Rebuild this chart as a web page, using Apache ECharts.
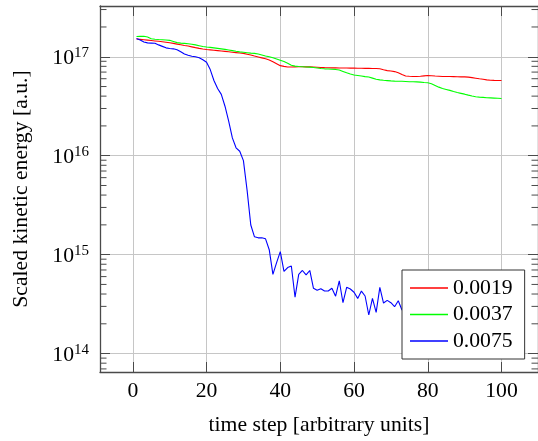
<!DOCTYPE html>
<html><head><meta charset="utf-8">
<script src="https://cdn.jsdelivr.net/npm/echarts@6/dist/echarts.min.js"></script>
<style>html,body{margin:0;padding:0;background:#fff}#c{width:538px;height:441px}</style>
</head><body><div id="c"></div>
<script>
// time steps (x values)
const steps = [1,2,3,4,5,6,7,8,9,10,11,12,13,14,15,16,17,18,19,20,
21,22,23,24,25,26,27,28,29,30,31,32,33,34,35,36,37,38,39,40,
41,42,43,44,45,46,47,48,49,50,51,52,53,54,55,56,57,58,59,60,
61,62,63,64,65,66,67,68,69,70,71,72,73,74,75,76,77,78,79,80,
81,82,83,84,85,86,87,88,89,90,91,92,93,94,95,96,97,98,99,100];

const seriesNames = ['0.0019', '0.0037', '0.0075'];

// log10 of the scaled kinetic energy
const log10Energy0019 = [
17.180,17.176,17.172,17.168,17.164,17.160,17.156,17.151,17.146,17.141,
17.135,17.128,17.121,17.114,17.108,17.100,17.092,17.085,17.079,17.074,
17.070,17.066,17.062,17.058,17.054,17.050,17.046,17.042,17.038,17.034,
17.026,17.017,17.007,16.998,16.989,16.980,16.968,16.950,16.930,16.910,
16.903,16.897,16.897,16.898,16.899,16.899,16.898,16.898,16.896,16.894,
16.892,16.890,16.889,16.888,16.888,16.887,16.886,16.886,16.885,16.885,
16.884,16.884,16.883,16.883,16.882,16.882,16.878,16.868,16.860,16.856,
16.850,16.838,16.820,16.806,16.803,16.801,16.800,16.803,16.807,16.810,
16.808,16.805,16.803,16.801,16.800,16.800,16.799,16.798,16.797,16.797,
16.794,16.789,16.783,16.777,16.772,16.766,16.763,16.761,16.760,16.760];

const log10Energy0037 = [
17.205,17.206,17.207,17.200,17.182,17.177,17.174,17.172,17.170,17.166,
17.155,17.143,17.138,17.135,17.131,17.127,17.120,17.112,17.104,17.099,
17.095,17.090,17.085,17.080,17.075,17.069,17.062,17.055,17.049,17.045,
17.041,17.037,17.034,17.028,17.018,17.008,17.000,16.990,16.978,16.965,
16.952,16.935,16.915,16.905,16.901,16.899,16.897,16.895,16.892,16.887,
16.881,16.878,16.876,16.874,16.872,16.866,16.852,16.838,16.825,16.815,
16.810,16.805,16.799,16.795,16.784,16.773,16.766,16.762,16.759,16.756,
16.754,16.753,16.752,16.750,16.748,16.747,16.746,16.744,16.740,16.737,
16.727,16.710,16.693,16.680,16.670,16.660,16.648,16.638,16.630,16.622,
16.612,16.603,16.596,16.592,16.589,16.586,16.584,16.582,16.580,16.578];

const log10Energy0075 = [
17.185,17.170,17.150,17.140,17.138,17.136,17.120,17.105,17.090,17.083,
17.080,17.070,17.050,17.028,17.015,17.005,17.000,16.990,16.970,16.945,
16.870,16.760,16.680,16.620,16.500,16.350,16.180,16.080,16.045,15.950,
15.650,15.300,15.180,15.170,15.170,15.160,15.050,14.800,14.920,15.030,
14.830,14.870,14.885,14.570,14.800,14.840,14.795,14.840,14.660,14.640,
14.655,14.632,14.632,14.660,14.580,14.736,14.514,14.670,14.653,14.620,
14.558,14.632,14.582,14.390,14.558,14.417,14.670,14.511,14.538,14.514,
14.474,14.534,14.440,14.470,14.400,14.450,14.360,14.420,14.330,14.390,
14.300,14.360,14.280,14.340,14.250,14.310,14.220,14.290,14.200,14.260,
14.170,14.240,14.150,14.220,14.122,14.200,14.160,14.220,14.140,14.190];

const xTickValues = [0, 20, 40, 60, 80, 100];
const yTickExponents = [14, 15, 16, 17];
const xRange = [-8.9, 109.9];
const yRange = [6.516e13, 3.258e17];
const minorTickValues = [7e13,8e13,9e13,
  2e14,3e14,4e14,5e14,6e14,7e14,8e14,9e14,
  2e15,3e15,4e15,5e15,6e15,7e15,8e15,9e15,
  2e16,3e16,4e16,5e16,6e16,7e16,8e16,9e16,
  2e17,3e17];

const FONT = '"Liberation Serif", "Times New Roman", serif';
const frameColor = '#4a4a4a';
const gridColor = '#c6c6c6';
const lineColors = ['#ff0000', '#00ff00', '#0000ff'];
const allLogs = [log10Energy0019, log10Energy0037, log10Energy0075];

function toPairs(logs) { return steps.map((s, i) => [s, Math.pow(10, logs[i])]); }

function yLabel(v) {
  const e = Math.log10(v);
  const r = Math.round(e);
  if (Math.abs(e - r) < 1e-6 && yTickExponents.includes(r)) return '{b|10}{s|' + r + '}';
  return '';
}
function xLabel(v) { return xTickValues.includes(v) ? String(v) : ''; }

const lineSeries = seriesNames.map((n, i) => ({
  name: n, type: 'line', data: toPairs(allLogs[i]),
  symbol: 'none', showSymbol: false, clip: true, z: 3,
  lineStyle: { color: lineColors[i], width: 1.1 },
  itemStyle: { color: lineColors[i] }
}));

const minorTicks = {
  type: 'custom', silent: true, z: 4,
  data: minorTickValues.map(v => [xRange[0], v]),
  encode: { x: 0, y: 1 },
  renderItem: function (params, api) {
    const v = api.value(1);
    const pL = api.coord([xRange[0], v]);
    const pR = api.coord([xRange[1], v]);
    const st = { stroke: frameColor, lineWidth: 1 };
    return { type: 'group', children: [
      { type: 'line', shape: { x1: pL[0], y1: pL[1], x2: pL[0] + 6.5, y2: pL[1] }, style: st },
      { type: 'line', shape: { x1: pR[0] - 6.5, y1: pR[1], x2: pR[0], y2: pR[1] }, style: st }
    ]};
  }
};

const axisLineStyle = { color: frameColor, width: 1.3 };
const tickStyle = { color: frameColor, width: 1 };

const option = {
  animation: false,
  backgroundColor: '#fff',
  grid: { left: 100, top: 6, width: 441, height: 366 },
  xAxis: [{
    type: 'value', min: xRange[0], max: xRange[1], splitNumber: 6,
    axisLine: { show: true, onZero: false, lineStyle: axisLineStyle },
    axisTick: { show: true, inside: true, length: 10, lineStyle: tickStyle },
    axisLabel: { show: true, margin: 8, fontFamily: FONT, fontSize: 21.7, color: '#000',
      showMinLabel: false, showMaxLabel: false, formatter: xLabel },
    splitLine: { show: true, lineStyle: { color: gridColor, width: 1 } },
    name: 'time step [arbitrary units]', nameLocation: 'middle', nameGap: 42,
    nameTextStyle: { fontFamily: FONT, fontSize: 21.7, color: '#000' }
  }, {
    type: 'value', position: 'top', min: xRange[0], max: xRange[1], splitNumber: 6,
    axisLine: { show: true, onZero: false, lineStyle: axisLineStyle },
    axisTick: { show: true, inside: true, length: 10, lineStyle: tickStyle },
    axisLabel: { show: false }, splitLine: { show: false }
  }],
  yAxis: [{
    type: 'log', logBase: 10, min: yRange[0], max: yRange[1], splitNumber: 4,
    axisLine: { show: true, onZero: false, lineStyle: axisLineStyle },
    axisTick: { show: true, inside: true, length: 10, lineStyle: tickStyle },
    axisLabel: { show: true, margin: 11, color: '#000', formatter: yLabel,
      showMinLabel: false, showMaxLabel: false,
      rich: {
        b: { fontFamily: FONT, fontSize: 21.7, color: '#000', padding: [4, 0, 0, 0] },
        s: { fontFamily: FONT, fontSize: 15, color: '#000', padding: [0, 0, 8, 0] }
      } },
    splitLine: { show: true, lineStyle: { color: gridColor, width: 1 } },
    name: 'Scaled kinetic energy [a.u.]', nameLocation: 'middle', nameGap: 68, nameRotate: 90,
    nameTextStyle: { fontFamily: FONT, fontSize: 21.7, color: '#000' }
  }, {
    type: 'log', logBase: 10, position: 'right', min: yRange[0], max: yRange[1], splitNumber: 4,
    axisLine: { show: true, onZero: false, lineStyle: axisLineStyle },
    axisTick: { show: true, inside: true, length: 10, lineStyle: tickStyle },
    axisLabel: { show: false }, splitLine: { show: false }
  }],
  legend: {
    data: seriesNames, orient: 'vertical', left: 402, top: 270,
    padding: [7, 12, 7, 8], itemWidth: 38, itemHeight: 1.3, itemGap: 4.5, icon: 'rect',
    backgroundColor: '#fff', borderColor: '#333', borderWidth: 1, borderRadius: 0,
    selectedMode: false, z: 10,
    textStyle: { fontFamily: FONT, fontSize: 21.7, color: '#000', lineHeight: 22 }
  },
  series: lineSeries.concat([minorTicks])
};

const chart = echarts.init(document.getElementById('c'), null, { renderer: 'canvas' });
chart.setOption(option);
</script>
</body></html>
